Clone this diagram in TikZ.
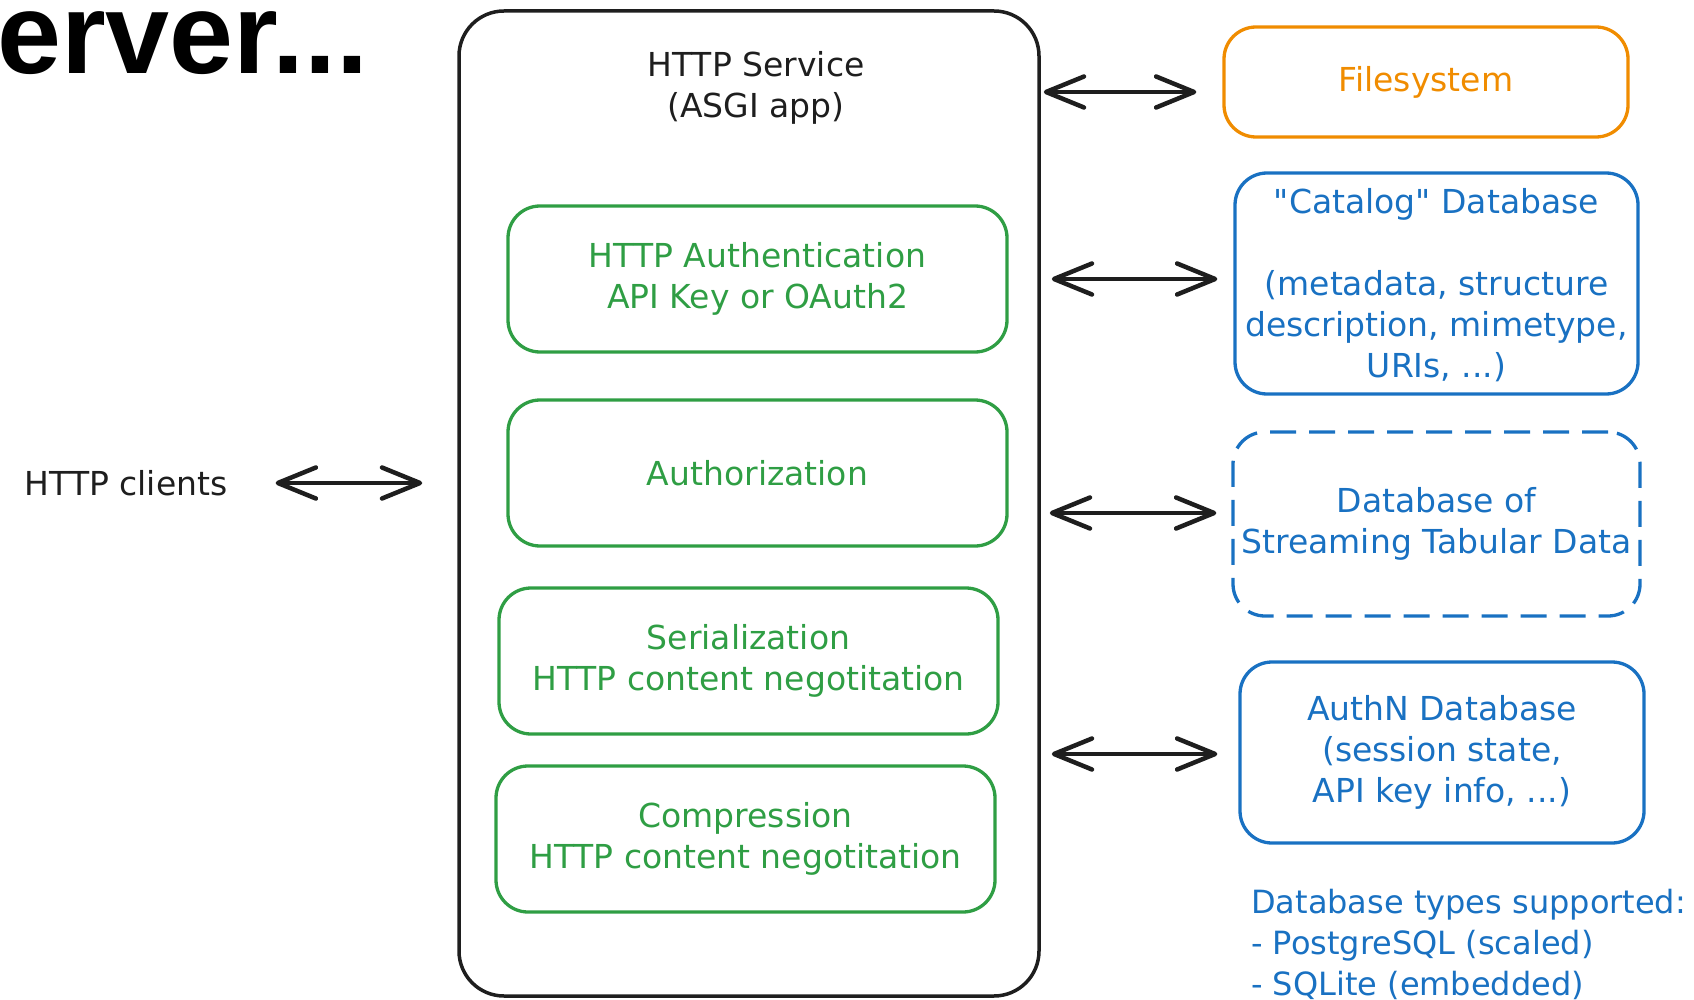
\documentclass[tikz,border=0pt]{standalone}
\usepackage{fontspec}
\setmainfont{DejaVu Sans}
\newfontfamily\headfont{Liberation Sans}
\usetikzlibrary{arrows.meta}

\definecolor{ink}{HTML}{1E1E1E}
\definecolor{exgreen}{HTML}{2F9E44}
\definecolor{exblue}{HTML}{1971C2}
\definecolor{exorange}{HTML}{F08C00}

\tikzset{
  hand/.style={font=\fontsize{33}{41}\selectfont, align=center, inner sep=0pt},
  box/.style={hand, draw, line width=3.3pt, rounded corners=32pt},
  greenbox/.style={box, draw=exgreen, text=exgreen, minimum width=499pt, minimum height=146pt},
  bluebox/.style={box, draw=exblue, text=exblue},
  orangebox/.style={box, draw=exorange, text=exorange},
  barb/.tip={Straight Barb[length=38pt,width=31pt,line cap=round,round]},
  dbl/.style={ink, line width=4.5pt, line cap=round, {barb}-{barb}},
}

\begin{document}
\begin{tikzpicture}[x=1pt,y=-1pt]
\useasboundingbox (0,0) rectangle (1694,1000);

% heading fragment at the top left
\node[anchor=base west, inner sep=0pt, text=black,
      font=\headfont\bfseries\fontsize{115}{118}\selectfont] (head) at (-3,74) {erver...};

% the service container and its layers
\node[draw=ink, line width=3.5pt, rounded corners=45pt,
      minimum width=580pt, minimum height=985pt] (svc) at (749,503.5) {};
\node[hand, text=ink] (svctitle) at (756,88) {HTTP Service\\(ASGI app)};

\node[greenbox] (authn) at (757.5,279) {HTTP Authentication\\API Key or OAuth2};
\node[greenbox] (authz) at (757.5,473) {Authorization};
\node[greenbox] (ser)   at (748.5,661) {Serialization\\HTTP content negotitation};
\node[greenbox] (comp)  at (745.5,839) {Compression\\HTTP content negotitation};

% clients
\node[hand, text=ink] (clients) at (126,483) {HTTP clients};

% back-end stores
\node[orangebox, minimum width=404pt, minimum height=110pt] (fs) at (1426,82) {Filesystem};
\node[bluebox, minimum width=403pt, minimum height=221pt] (cat) at (1436.5,283.5)
  {\strut\textquotedbl Catalog\textquotedbl{} Database\\[41pt](metadata, structure\\description, mimetype,\\URIs, ...)};
\node[bluebox, dashed, dash pattern=on 26pt off 13pt, minimum width=407pt, minimum height=184pt]
  (stream) at (1436.5,524) {Database of\\Streaming Tabular Data};
\node[bluebox, minimum width=404pt, minimum height=181pt] (authdb) at (1442,752.5)
  {AuthN Database\\(session state,\\API key info, ...)};

\node[hand, align=left, text=exblue, anchor=west, font=\fontsize{32}{41}\selectfont] (types) at (1251,944)
  {Database types supported:\\- PostgreSQL (scaled)\\- SQLite (embedded)};

% connectors
\coordinate (fsa) at ([yshift=-10pt]fs.west);
\coordinate (cata) at ([yshift=4.5pt]cat.west);
\coordinate (stra) at ([yshift=11pt]stream.west);
\coordinate (autha) at ([yshift=-1.5pt]authdb.west);

\draw[dbl, shorten <=48pt, shorten >=35pt] (clients.east) -- (clients.east -| svc.west);
\draw[dbl, shorten <=3pt, shorten >=26pt] (fsa -| svc.east) -- (fsa);
\draw[dbl, shorten <=11pt, shorten >=16pt] (cata -| svc.east) -- (cata);
\draw[dbl, shorten <=9pt, shorten >=15pt] (stra -| svc.east) -- (stra);
\draw[dbl, shorten <=11pt, shorten >=21pt] (autha -| svc.east) -- (autha);
\end{tikzpicture}
\end{document}
